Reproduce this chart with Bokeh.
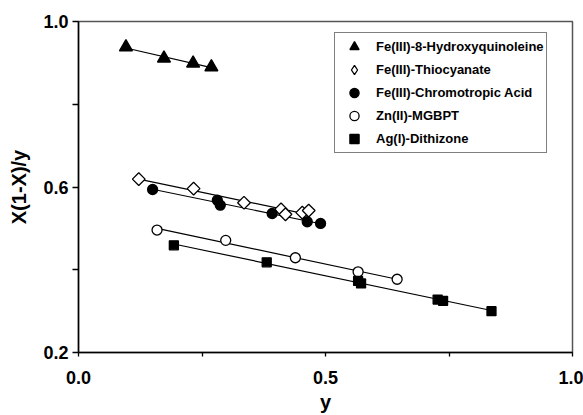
import numpy as np
from bokeh.plotting import figure
from bokeh.models import Legend, LegendItem, FixedTicker, Range1d
from bokeh.embed import file_html
from bokeh.resources import INLINE

# Data
hq_x = [0.096, 0.173, 0.232, 0.269]
hq_y = [0.938, 0.911, 0.899, 0.890]

th_x = [0.122, 0.233, 0.335, 0.410, 0.419, 0.453, 0.466]
th_y = [0.619, 0.596, 0.562, 0.546, 0.534, 0.538, 0.543]

ca_x = [0.150, 0.281, 0.287, 0.392, 0.463, 0.490]
ca_y = [0.594, 0.568, 0.556, 0.536, 0.516, 0.512]

zn_x = [0.159, 0.298, 0.439, 0.566, 0.645]
zn_y = [0.496, 0.471, 0.429, 0.395, 0.377]

ag_x = [0.193, 0.381, 0.566, 0.572, 0.727, 0.738, 0.836]
ag_y = [0.459, 0.418, 0.373, 0.367, 0.328, 0.325, 0.300]

labels = ["Fe(III)-8-Hydroxyquinoleine", "Fe(III)-Thiocyanate",
          "Fe(III)-Chromotropic Acid", "Zn(II)-MGBPT", "Ag(I)-Dithizone"]

x_ticks = [0.0, 0.25, 0.5, 0.75, 1.0]
x_tick_labels = {0.0: "0.0", 0.25: "", 0.5: "0.5", 0.75: "", 1.0: "1.0"}
y_ticks = [0.2, 0.4, 0.6, 0.8, 1.0]
y_tick_labels = {0.2: "0.2", 0.4: "", 0.6: "0.6", 0.8: "", 1.0: "1.0"}

FONT = "Liberation Sans"

p = figure(width=583, height=415, output_backend="svg", toolbar_location=None,
           x_range=Range1d(0, 1), y_range=Range1d(0.2, 1.0),
           min_border_left=78, min_border_right=11, min_border_top=21,
           min_border_bottom=62)
p.xgrid.visible = False
p.ygrid.visible = False
p.outline_line_color = "#555555"
p.outline_line_width = 1.5
p.background_fill_color = "white"
p.border_fill_color = "white"

series = [
    (hq_x, hq_y, "triangle", 13, "black", 0.0, "triangle"),
    (th_x, th_y, "square", 9, "white", np.pi / 4, "diamond"),
    (ca_x, ca_y, "circle", 10, "black", 0.0, "circle"),
    (zn_x, zn_y, "circle", 10, "white", 0.0, "circle"),
    (ag_x, ag_y, "square", 9, "black", 0.0, "square"),
]

legend_renderers = []
for xs, ys, marker, size, fill, ang, lmarker in series:
    xa = np.array(xs)
    ya = np.array(ys)
    m, b = np.polyfit(xa, ya, 1)
    lx = [xa.min(), xa.max()]
    p.line(lx, [m * lx[0] + b, m * lx[1] + b], line_color="black", line_width=1.2)
for xs, ys, marker, size, fill, ang, lmarker in series:
    r = p.scatter(xs, ys, marker=marker, size=size, fill_color=fill, angle=ang,
                  line_color="black", line_width=1.3)
    if lmarker != marker:
        # legend-only glyph (no data drawn) so the key shows a diamond
        r = p.scatter([np.nan], [np.nan], marker=lmarker, size=size,
                      fill_color=fill, line_color="black", line_width=1.3)
    legend_renderers.append(r)

for ax in (p.xaxis, p.yaxis):
    ax.major_label_text_font = FONT
    ax.major_label_text_font_style = "bold"
    ax.major_label_text_font_size = "18px"
    ax.major_label_text_color = "black"
    ax.axis_label_text_font = FONT
    ax.axis_label_text_font_style = "bold"
    ax.axis_label_text_font_size = "20px"
    ax.axis_label_text_color = "black"
    ax.axis_line_color = "black"
    ax.axis_line_width = 1.5
    ax.major_tick_line_color = "black"
    ax.major_tick_line_width = 1.3
    ax.minor_tick_line_color = None
    ax.major_tick_in = 0

p.xaxis.ticker = FixedTicker(ticks=x_ticks)
p.xaxis.major_label_overrides = x_tick_labels
p.yaxis.ticker = FixedTicker(ticks=y_ticks)
p.yaxis.major_label_overrides = y_tick_labels
p.xaxis.major_tick_out = 4
p.yaxis.major_tick_out = 6
p.xaxis.major_label_standoff = 14
p.yaxis.major_label_standoff = 4
p.xaxis.axis_label = "y"
p.yaxis.axis_label = "X(1-X)/y"
p.xaxis.axis_label_standoff = 4
p.yaxis.axis_label_standoff = 10

items = [LegendItem(label=lab, renderers=[r]) for lab, r in zip(labels, legend_renderers)]
legend = Legend(items=items, location=(256, 199))
legend.label_text_font = FONT
legend.label_text_font_style = "bold"
legend.label_text_font_size = "13px"
legend.label_text_color = "black"
legend.border_line_color = "black"
legend.border_line_width = 1
legend.background_fill_alpha = 1
legend.padding = 2
legend.spacing = -2
legend.glyph_height = 23
legend.label_height = 23
legend.glyph_width = 34
legend.label_standoff = 5
legend.margin = 0
p.add_layout(legend)

open("out.html", "w").write(file_html(p, INLINE))
